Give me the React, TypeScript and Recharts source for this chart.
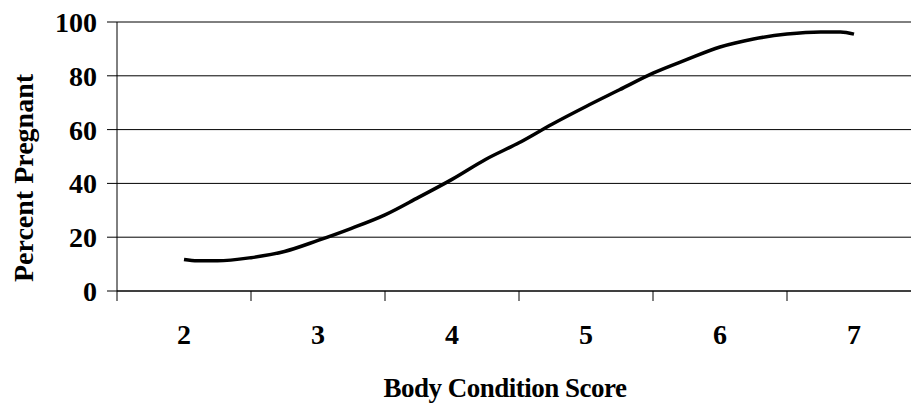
import React from 'react';
import {
  LineChart,
  Line,
  XAxis,
  YAxis,
  CartesianGrid,
  Label
} from 'recharts';

// body condition score (x) and percent pregnant (y)
const bcsScores = [2, 2.1, 2.25, 2.5, 2.75, 3, 3.25, 3.5, 3.75, 4, 4.25, 4.5, 4.75, 5, 5.25, 5.5, 5.75, 6, 6.25, 6.5, 6.75, 6.9, 7];
const pctPregnant = [11.7, 11.2, 11.2, 12.4, 14.7, 18.8, 23.3, 28.3, 34.8, 41.5, 48.9, 55.1, 62.1, 68.6, 74.8, 81, 86, 90.7, 93.7, 95.5, 96.3, 96.3, 95.5];

const xTicks = [2, 3, 4, 5, 6, 7];
const yTicks = [0, 20, 40, 60, 80, 100];

const chartData = bcsScores.map((score, i) => ({ score, pct: pctPregnant[i] }));

const FONT = '"Liberation Serif", "Times New Roman", serif';
const CHART_W = 921;
const CHART_H = 406;
const Y_W = 117;
const X_DOMAIN: [number, number] = [1.5, 7.5];
// tick marks sit halfway between the labels
const HALF_STEP = (CHART_W - Y_W) / (X_DOMAIN[1] - X_DOMAIN[0]) / 2;

const XTick = ({ x, y, payload }: any) => (
  <g>
    <line x1={x - HALF_STEP} x2={x - HALF_STEP} y1={y} y2={y + 10} stroke="#000" strokeWidth={1} />
    <text
      x={x}
      y={y + 53}
      textAnchor="middle"
      fontFamily={FONT}
      fontWeight="bold"
      fontSize={28}
      fill="#000"
    >
      {payload.value}
    </text>
  </g>
);

const App = () => {
  return (
    <div
      style={{
        position: 'absolute',
        left: 0,
        top: 0,
        width: 911,
        height: 406,
        overflow: 'hidden',
        background: '#fff'
      }}
    >
      <LineChart
        width={CHART_W}
        height={CHART_H}
        data={chartData}
        margin={{ top: 22, right: 0, bottom: 0, left: 0 }}
      >
        <CartesianGrid vertical={false} stroke="#000" strokeWidth={1} />
        <XAxis
          dataKey="score"
          type="number"
          domain={X_DOMAIN}
          ticks={xTicks}
          height={115}
          tickLine={false}
          tickSize={0}
          tickMargin={0}
          axisLine={{ stroke: '#000' }}
          tick={<XTick />}
          interval={0}
        >
          <Label
            content={() => (
              <text
                x={505}
                y={397}
                textAnchor="middle"
                fontFamily={FONT}
                fontWeight="bold"
                fontSize={27}
                letterSpacing={-0.5}
                fill="#000"
              >
                Body Condition Score
              </text>
            )}
          />
        </XAxis>
        <YAxis
          width={Y_W}
          domain={[0, 100]}
          ticks={yTicks}
          interval={0}
          tickSize={10}
          tickMargin={10}
          tickLine={{ stroke: '#000' }}
          axisLine={{ stroke: '#000' }}
          tick={{ fontSize: 28, fontWeight: 'bold', fontFamily: FONT, fill: '#000' }}
        >
          <Label
            content={() => (
              <text
                transform="translate(33,178) rotate(-90)"
                textAnchor="middle"
                fontFamily={FONT}
                fontWeight="bold"
                fontSize={28}
                fill="#000"
              >
                Percent Pregnant
              </text>
            )}
          />
        </YAxis>
        <Line
          type="monotone"
          dataKey="pct"
          stroke="#000"
          strokeWidth={3.5}
          dot={false}
          activeDot={false}
          isAnimationActive={false}
        />
      </LineChart>
    </div>
  );
};

export default App;
